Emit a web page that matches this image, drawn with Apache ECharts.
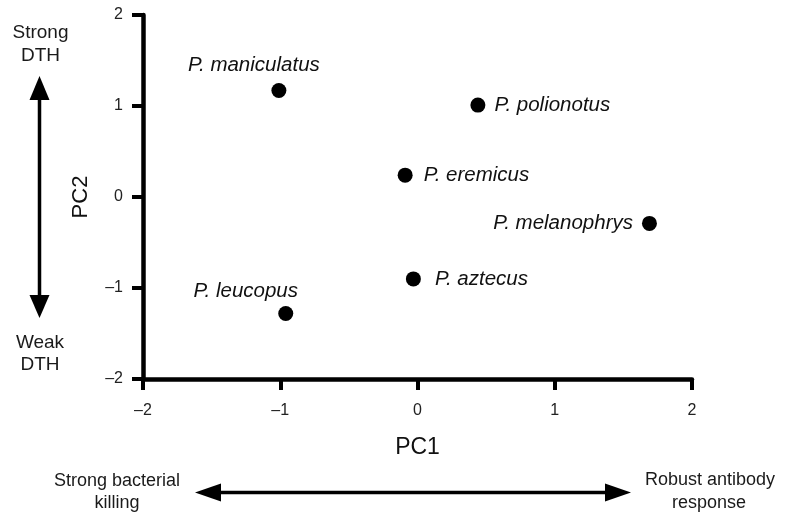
<!DOCTYPE html>
<html>
<head>
<meta charset="utf-8">
<script src="https://cdn.jsdelivr.net/npm/echarts@6/dist/echarts.min.js"></script>
<style>
  html, body { margin: 0; padding: 0; background: #fff; }
  #pca { width: 785px; height: 521px; }
</style>
</head>
<body>
<div id="pca"></div>
<script>
// species and their PC scores
const species = ['P. maniculatus', 'P. polionotus', 'P. eremicus', 'P. melanophrys', 'P. aztecus', 'P. leucopus']
const pc1 = [-1.01, 0.44, -0.09, 1.69, -0.03, -0.96]
const pc2 = [1.17, 1.01, 0.24, -0.29, -0.90, -1.28]
const axisTicks = [-2, -1, 0, 1, 2]

// where each label sits relative to its dot
const labelPlace = {
  'P. maniculatus': { position: 'top', offset: [-25, -3] },
  'P. polionotus': { position: 'right', offset: [4, 0] },
  'P. eremicus': { position: 'right', offset: [6, 0] },
  'P. melanophrys': { position: 'left', offset: [-4, 0] },
  'P. aztecus': { position: 'right', offset: [9, 0] },
  'P. leucopus': { position: 'top', offset: [-40, 0] }
}

const font = '"Liberation Sans", Arial, Helvetica, sans-serif'
const chart = echarts.init(document.getElementById('pca'))

const fmt = v => String(v).replace('-', '\u2013')

const points = species.map((name, i) => ({
  name: name,
  value: [pc1[i], pc2[i]],
  label: Object.assign({ show: true, formatter: '{b}' }, labelPlace[name])
}))

const axisCommon = {
  type: 'value',
  min: axisTicks[0],
  max: axisTicks[axisTicks.length - 1],
  interval: 1,
  splitLine: { show: false },
  axisLine: { show: true, onZero: false, lineStyle: { color: '#000', width: 4.5 } },
  axisTick: { show: true, length: 11, lineStyle: { color: '#000', width: 4 } },
  axisLabel: { color: '#222', fontSize: 16, fontFamily: font, formatter: fmt },
  nameLocation: 'middle',
  nameTextStyle: { color: '#111', fontFamily: font }
}

const arrowHead = (pts) => ({
  type: 'polygon',
  shape: { points: pts },
  style: { fill: '#000' }
})

const note = (text, x, y, size) => ({
  type: 'text',
  x: x,
  y: y,
  style: { text: text, font: size + 'px ' + font, fill: '#1a1a1a', align: 'center', verticalAlign: 'middle' }
})

const option = {
  animation: false,
  grid: { left: 143, right: 93, top: 15, bottom: 142 },
  xAxis: Object.assign({}, axisCommon, {
    name: 'PC1',
    nameGap: 57,
    nameTextStyle: Object.assign({}, axisCommon.nameTextStyle, { fontSize: 23 }),
    axisLabel: Object.assign({}, axisCommon.axisLabel, { margin: 24 })
  }),
  yAxis: Object.assign({}, axisCommon, {
    name: 'PC2',
    nameGap: 51,
    nameTextStyle: Object.assign({}, axisCommon.nameTextStyle, { fontSize: 22 }),
    axisLabel: Object.assign({}, axisCommon.axisLabel, { margin: 20 })
  }),
  series: [
    {
      type: 'scatter',
      symbolSize: 15,
      itemStyle: { color: '#000', opacity: 1 },
      label: {
        color: '#111',
        fontSize: 20.5,
        fontStyle: 'italic',
        fontFamily: font
      },
      data: points
    }
  ],
  graphic: [
    // vertical DTH arrow
    { type: 'line', shape: { x1: 39.5, y1: 96, x2: 39.5, y2: 298 }, style: { stroke: '#000', lineWidth: 3.5 } },
    arrowHead([[39.5, 76], [29.5, 100], [49.5, 100]]),
    arrowHead([[39.5, 318], [29.5, 295], [49.5, 295]]),
    note('Strong', 40.5, 33, 19),
    note('DTH', 40.5, 56, 19),
    note('Weak', 40, 343, 19),
    note('DTH', 40, 365, 19),
    // horizontal PC1 arrow
    { type: 'line', shape: { x1: 216, y1: 492.5, x2: 610, y2: 492.5 }, style: { stroke: '#000', lineWidth: 3.5 } },
    arrowHead([[195, 492.5], [221, 483.5], [221, 501.5]]),
    arrowHead([[631, 492.5], [605, 483.5], [605, 501.5]]),
    note('Strong bacterial', 117, 481.5, 18),
    note('killing', 117, 503.5, 18),
    note('Robust antibody', 710, 480.5, 18),
    note('response', 709, 503.5, 18)
  ]
}

chart.setOption(option)
</script>
</body>
</html>
